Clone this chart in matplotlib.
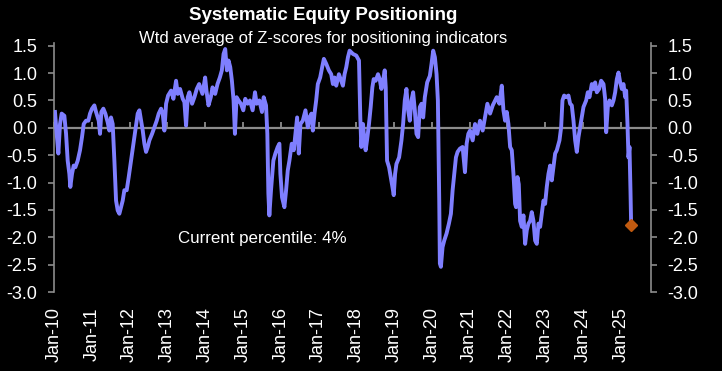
import matplotlib

matplotlib.use("Agg")
import matplotlib.pyplot as plt

plt.rcParams["font.family"] = ["Liberation Sans", "DejaVu Sans"]

# decimal year
years = [
    2010.026, 2010.071, 2010.115, 2010.159, 2010.203, 2010.274, 2010.318, 2010.362, 2010.406, 2010.432,
    2010.477, 2010.521, 2010.565, 2010.627, 2010.688, 2010.741, 2010.786, 2010.847, 2010.909, 2010.953,
    2011.006, 2011.068, 2011.112, 2011.183, 2011.218, 2011.253, 2011.306, 2011.359, 2011.421, 2011.465,
    2011.509, 2011.553, 2011.598, 2011.642, 2011.686, 2011.730, 2011.774, 2011.818, 2011.862, 2011.924,
    2011.977, 2012.039, 2012.101, 2012.154, 2012.215, 2012.260, 2012.304, 2012.348, 2012.392, 2012.436,
    2012.480, 2012.524, 2012.595, 2012.657, 2012.718, 2012.771, 2012.833, 2012.877, 2012.921, 2012.966,
    2013.019, 2013.098, 2013.160, 2013.230, 2013.274, 2013.336, 2013.407, 2013.451, 2013.495, 2013.539,
    2013.583, 2013.654, 2013.716, 2013.778, 2013.841, 2013.929, 2014.000, 2014.035, 2014.088, 2014.150,
    2014.195, 2014.265, 2014.327, 2014.389, 2014.442, 2014.487, 2014.531, 2014.575, 2014.619, 2014.664,
    2014.708, 2014.752, 2014.788, 2014.832, 2014.885, 2014.947, 2015.009, 2015.062, 2015.124, 2015.186,
    2015.257, 2015.319, 2015.363, 2015.434, 2015.504, 2015.549, 2015.611, 2015.646, 2015.673, 2015.699,
    2015.743, 2015.805, 2015.858, 2015.920, 2015.965, 2015.991, 2016.035, 2016.097, 2016.142, 2016.186,
    2016.230, 2016.292, 2016.345, 2016.389, 2016.434, 2016.478, 2016.522, 2016.584, 2016.655, 2016.717,
    2016.761, 2016.814, 2016.850, 2016.894, 2016.938, 2016.982, 2017.044, 2017.097, 2017.142, 2017.204,
    2017.274, 2017.336, 2017.381, 2017.425, 2017.469, 2017.540, 2017.602, 2017.646, 2017.690, 2017.735,
    2017.779, 2017.823, 2017.912, 2018.000, 2018.071, 2018.106, 2018.133, 2018.177, 2018.221, 2018.248,
    2018.283, 2018.336, 2018.381, 2018.425, 2018.460, 2018.513, 2018.575, 2018.619, 2018.664, 2018.708,
    2018.752, 2018.779, 2018.814, 2018.867, 2018.912, 2018.956, 2018.991, 2019.027, 2019.062, 2019.133,
    2019.195, 2019.239, 2019.283, 2019.327, 2019.372, 2019.416, 2019.460, 2019.504, 2019.549, 2019.593,
    2019.637, 2019.681, 2019.726, 2019.770, 2019.814, 2019.876, 2019.947, 2019.991, 2020.035, 2020.080,
    2020.124, 2020.159, 2020.195, 2020.212, 2020.239, 2020.283, 2020.327, 2020.389, 2020.451, 2020.504,
    2020.549, 2020.593, 2020.637, 2020.681, 2020.743, 2020.814, 2020.876, 2020.920, 2020.965, 2021.009,
    2021.080, 2021.142, 2021.204, 2021.274, 2021.345, 2021.407, 2021.469, 2021.540, 2021.611, 2021.673,
    2021.717, 2021.788, 2021.850, 2021.894, 2021.938, 2021.982, 2022.026, 2022.071, 2022.115, 2022.159,
    2022.203, 2022.229, 2022.265, 2022.300, 2022.335, 2022.380, 2022.424, 2022.468, 2022.512, 2022.556,
    2022.600, 2022.644, 2022.688, 2022.733, 2022.777, 2022.821, 2022.865, 2022.909, 2022.953, 2022.997,
    2023.041, 2023.086, 2023.130, 2023.174, 2023.218, 2023.262, 2023.306, 2023.377, 2023.421, 2023.456,
    2023.500, 2023.553, 2023.615, 2023.659, 2023.703, 2023.748, 2023.792, 2023.836, 2023.880, 2023.924,
    2023.968, 2024.012, 2024.083, 2024.127, 2024.171, 2024.233, 2024.277, 2024.321, 2024.365, 2024.427,
    2024.480, 2024.542, 2024.586, 2024.613, 2024.657, 2024.701, 2024.763, 2024.807, 2024.851, 2024.895,
    2024.939, 2024.983, 2025.027, 2025.071, 2025.116, 2025.142, 2025.177, 2025.203, 2025.230, 2025.256,
    2025.274,
]
zscore = [
    0.29, -0.11, -0.47, 0.07, 0.26, 0.22, -0.10, -0.60, -0.84, -1.08,
    -0.84, -0.69, -0.72, -0.60, -0.41, -0.17, 0.07, 0.13, 0.13, 0.26,
    0.35, 0.41, 0.29, 0.13, -0.11, 0.29, 0.35, 0.26, 0.10, -0.05,
    0.19, 0.07, -0.60, -1.33, -1.51, -1.57, -1.45, -1.33, -1.14, -1.14,
    -0.90, -0.60, -0.29, -0.05, 0.26, 0.32, 0.13, -0.05, -0.29, -0.44,
    -0.35, -0.23, -0.11, 0.01, 0.13, 0.26, 0.35, 0.26, -0.05, 0.44,
    0.59, 0.68, 0.53, 0.86, 0.62, 0.71, 0.53, 0.47, 0.04, 0.56,
    0.65, 0.44, 0.56, 0.71, 0.80, 0.62, 0.92, 0.68, 0.41, 0.56,
    0.74, 0.62, 0.80, 0.92, 1.05, 1.35, 1.44, 1.05, 1.23, 1.11,
    0.86, 0.50, -0.11, 0.56, 0.50, 0.44, 0.32, 0.53, 0.44, 0.50,
    0.32, 0.65, 0.44, 0.50, 0.29, 0.56, 0.41, -0.11, -1.20, -1.60,
    -1.14, -0.60, -0.47, -0.35, -0.29, -0.84, -1.27, -1.45, -1.14, -0.78,
    -0.60, -0.29, -0.41, -0.11, 0.19, -0.47, 0.07, 0.13, 0.32, 0.01,
    0.19, 0.26, -0.05, 0.26, 0.50, 0.80, 0.92, 1.11, 1.26, 1.17,
    1.05, 0.98, 0.80, 0.92, 0.77, 0.98, 0.86, 0.77, 0.98, 1.11,
    1.29, 1.41, 1.35, 1.32, 1.23, 0.19, -0.35, 0.07, -0.29, -0.41,
    -0.23, 0.07, 0.38, 0.74, 0.89, 0.86, 0.98, 0.89, 0.71, 0.86,
    1.05, 0.74, -0.60, -0.72, -0.90, -1.08, -1.23, -0.84, -0.66, -0.54,
    -0.23, 0.07, 0.50, 0.71, 0.32, 0.13, 0.50, 0.65, 0.32, -0.11,
    -0.17, 0.38, 0.44, 0.19, 0.56, 0.83, 0.95, 1.17, 1.41, 1.29,
    0.98, 0.50, -1.33, -2.48, -2.54, -2.18, -2.06, -1.93, -1.75, -1.57,
    -1.14, -0.84, -0.54, -0.44, -0.38, -0.35, -0.81, -0.29, -0.11, -0.05,
    -0.23, 0.07, -0.11, 0.13, -0.05, 0.19, 0.44, 0.26, 0.41, 0.50,
    0.56, 0.44, 0.77, 0.32, 0.13, 0.29, 0.07, -0.35, -0.41, -0.84,
    -1.39, -1.45, -0.90, -1.03, -1.70, -1.81, -1.60, -2.12, -1.87, -1.75,
    -1.70, -1.54, -1.70, -2.06, -2.12, -1.75, -1.81, -1.57, -1.33, -1.39,
    -1.08, -0.84, -0.69, -0.96, -0.72, -0.47, -0.41, -0.23, 0.01, 0.50,
    0.59, 0.56, 0.59, 0.44, 0.41, 0.13, -0.23, -0.44, -0.17, 0.01,
    0.19, 0.38, 0.50, 0.65, 0.56, 0.80, 0.71, 0.83, 0.65, 0.71,
    0.86, 0.80, 0.53, -0.08, 0.38, 0.50, 0.41, 0.50, 0.65, 0.89,
    1.01, 0.83, 0.71, 0.80, 0.56, 0.68, 0.07, -0.54, -0.35, -1.14,
    -1.78,
]

tick_years = list(range(2010, 2026))
tick_labels = [f"Jan-{y % 100:02d}" for y in tick_years]
y_ticks = [1.5, 1.0, 0.5, 0.0, -0.5, -1.0, -1.5, -2.0, -2.5, -3.0]

TITLE = "Systematic Equity Positioning"
SUBTITLE = "Wtd average of Z-scores for positioning indicators"
NOTE = "Current percentile: 4%"

LINE_COLOR = "#7f7fff"
MARK_COLOR = "#c05a10"
AXIS_COLOR = "#8c8c8c"


def main() -> None:
    fig = plt.figure(figsize=(7.22, 3.71), dpi=100, facecolor="black")
    ax = fig.add_axes([0.0748, 0.2129, 0.8269, 0.6712], facecolor="black")

    ymin, ymax = -3.0, 1.55
    ax.set_xlim(2010.0, 2025.8)
    ax.set_ylim(ymin, ymax)

    ax.axhline(0, color=AXIS_COLOR, lw=1.6, zorder=1)
    ax.plot(years, zscore, color=LINE_COLOR, lw=2.8, solid_joinstyle="round", zorder=3)
    ax.plot(years[-1], zscore[-1], marker="D", ms=6.5, color=MARK_COLOR, zorder=4)

    # y axis on both sides
    for side in ("top", "bottom"):
        ax.spines[side].set_visible(False)
    for side in ("left", "right"):
        ax.spines[side].set_color(AXIS_COLOR)
        ax.spines[side].set_linewidth(1.2)
    ax.set_yticks(y_ticks)
    ax.set_yticklabels([f"{v:.1f}" for v in y_ticks])
    ax.tick_params(axis="y", which="both", left=True, right=True, labelleft=True, labelright=True,
                   direction="out", length=4, width=1.2, color=AXIS_COLOR, labelcolor="white",
                   labelsize=13, pad=8)

    # labels at the bottom, tick marks on the zero line
    ax.set_xticks(tick_years)
    ax.set_xticklabels(tick_labels, rotation=90, color="white", fontsize=13)
    ax.tick_params(axis="x", length=0, pad=11)

    zero_ax = ax.secondary_xaxis((0 - ymin) / (ymax - ymin))
    zero_ax.set_xticks(tick_years)
    zero_ax.tick_params(axis="x", direction="out", length=4.5, width=1.3, color=AXIS_COLOR,
                        labelbottom=False, labeltop=False)
    zero_ax.spines["bottom"].set_visible(False)

    ax.text(2013.28, -2.03, NOTE, color="white", fontsize=12.2, ha="left", va="center")

    fig.text(0.448, 0.957, TITLE, color="white", fontsize=13.5, fontweight="bold", ha="center", va="center")
    fig.text(0.448, 0.895, SUBTITLE, color="white", fontsize=12, ha="center", va="center")

    fig.savefig("out.png", dpi=100, facecolor="black")
    plt.close(fig)


if __name__ == "__main__":
    main()
